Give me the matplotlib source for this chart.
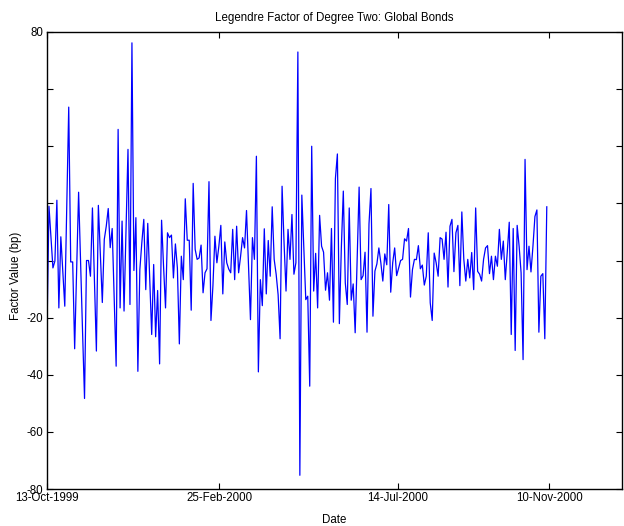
import numpy as np
import pandas as pd
import matplotlib
matplotlib.use("Agg")
import matplotlib.pyplot as plt
import matplotlib.dates as mdates

plt.rcParams['font.family'] = ['Liberation Sans', 'DejaVu Sans']

# factor values (bp), in date order
values = [
    -24.7, 19.0, 8.0, -2.6, -0.2, 21.1, -16.6, 8.3, -4.0, -16.0, 18.0, 53.7,
    -0.5, -0.5, -30.9, -3.0, 23.9, -1.0, -25.0, -48.3, 0.0, 0.0, -5.5, 18.4,
    -7.0, -31.7, 19.3, 2.0, -14.7, 7.4, 12.0, 18.2, 4.5, 11.2, -13.0, -37.0,
    45.9, -16.6, 13.8, -17.7, 10.0, 38.9, -15.4, 76.2,
    -3.5, 15.0, -38.8, -3.2, 6.2, 14.4, -10.2, 13.0, -6.7, -25.9, -1.4, -26.7,
    -10.5, -36.2, 14.1, -2.0, -16.6, 9.7, 8.0, 8.9, -6.1, 5.8,
    -2.6, -29.2, 1.5, -6.7, 21.6, 7.1, 7.1, -17.4, 27.0, 3.9, 0.4, 0.9, 5.4,
    -11.3, -4.3, -2.9, 27.6, -21.0, -8.8, 8.5, -0.8, 5.0, 12.3, -11.7, 6.5,
    -0.8, -3.0, -4.3, 10.9, -6.7, 12.0, -4.3, 1.5,
    8.0, 4.4, 17.5, -2.0, -20.7, 8.0, 0.4, 36.5, -39.0, -6.7, -15.8, 11.1,
    -11.7, 7.0, -5.5, 18.8, 0.4, -4.8, -12.0, -27.4, 26.0, 6.2, -10.7, 10.9,
    0.4, 16.1, -4.8, -0.8, 73.0, -75.2, 22.9, 5.0, -13.7,
    -12.5, -44.0, 40.0, -10.7, 2.5, -16.6, 15.8, 5.0, 2.9, -10.4, -4.3,
    -13.9, 11.2, -21.6, 28.7, 37.3, -22.1, 4.4, 24.3, -7.8, -15.4, 18.4, -13.9,
    -8.2, -25.3, 0.0, 25.7, -6.7, -5.3, 2.9, -25.1, 12.8, 25.2,
    -19.5, -3.7, -1.2, 4.4, -0.8, -7.2, 2.3, -1.5, 19.6, -11.1, -0.8,
    4.4, -5.3, -2.6, 0.0, 0.4, 7.6, 6.8, 11.2, -12.8, -3.2, 0.4, 0.3,
    5.2, -2.9, -1.6, -8.6, -5.5, 9.7, -14.8, -21.0, 2.6,
    -0.8, -5.5, 8.0, 7.5, 0.4, 9.9, -9.3, 12.0, 14.4, -3.9, 9.7, 12.3, -8.8,
    17.0, 0.4, -7.2, 0.4, -6.1, 2.8, -10.2, 18.4, -3.8, -4.8, -7.2, 0.4,
    4.4, 5.2, -4.6, 1.5, -6.7, 1.5, -2.0, 10.9,
    0.4, 6.8, -6.7, 3.0, 13.4, -25.9, 11.2, -31.5, 12.3, 5.0, -4.3, -34.7,
    35.4, -3.2, 5.0, -4.0, 5.0, 15.4, 17.7, -25.1, -5.5, -4.6, -27.4,
    18.8,
]
start_date = "1999-10-13"
end_date = "2000-11-08"
dates = pd.date_range(start_date, end_date, periods=len(values))

xtick_dates = ["1999-10-13", "2000-02-25", "2000-07-14", "2000-11-10"]
yticks = [-80, -60, -40, -20, 0, 20, 40, 60, 80]
ytick_labels = ["-80", "-60", "-40", "-20", "", "", "", "", "80"]

fig = plt.figure(figsize=(6.24, 5.26), dpi=100)
ax = fig.add_axes([47 / 624, 37 / 526, 575 / 624, 457 / 526])

ax.plot(dates, values, color="#0000ff", lw=0.9)

ax.set_xlim(pd.Timestamp("1999-10-13"), pd.Timestamp("2001-01-06"))
ax.set_ylim(-80, 80)
ax.set_xticks(pd.to_datetime(xtick_dates))
ax.xaxis.set_major_formatter(mdates.DateFormatter("%d-%b-%Y"))
ax.set_yticks(yticks)
ax.set_yticklabels(ytick_labels)

ax.tick_params(direction="in", length=4, width=0.8, labelsize=8.3,
               top=True, right=True, pad=2.5)
for s in ax.spines.values():
    s.set_linewidth(1.0)

ax.set_title("Legendre Factor of Degree Two: Global Bonds", fontsize=8.3, pad=8)
ax.set_xlabel("Date", fontsize=8.3, labelpad=7)
ax.set_ylabel("Factor Value (bp)", fontsize=8.3, labelpad=3)
ax.yaxis.set_label_coords(-0.044, 0.466)

fig.savefig("out.png", dpi=100)
